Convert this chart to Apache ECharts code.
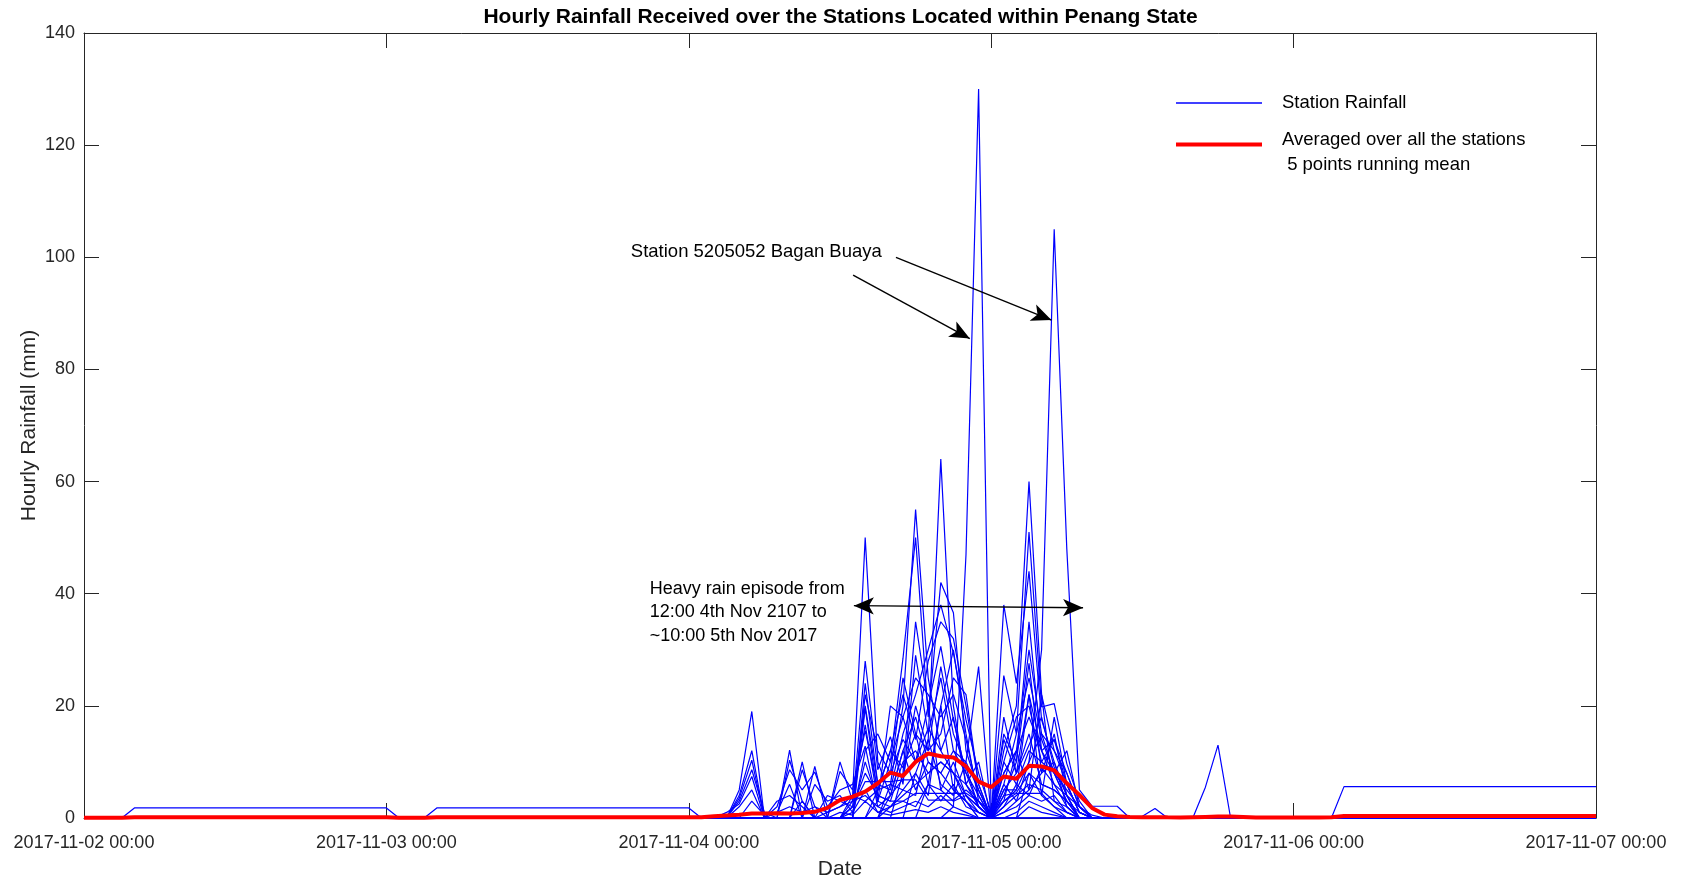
<!DOCTYPE html>
<html>
<head>
<meta charset="utf-8">
<script src="https://cdn.jsdelivr.net/npm/echarts@6/dist/echarts.min.js"></script>
<style>
html,body{margin:0;padding:0;background:#fff;}
#chart{width:1681px;height:877px;}
</style>
</head>
<body>
<div id="chart"></div>
<script>
// x values are hours since 2017-11-02 00:00
const xTickLabels = ['2017-11-02 00:00','2017-11-03 00:00','2017-11-04 00:00','2017-11-05 00:00','2017-11-06 00:00','2017-11-07 00:00'];
const yTicks = [0,20,40,60,80,100,120,140];

// Station hourly rainfall (mm) as [hour, value]
const s01 = [[0,0],[68,0],[69,2],[70,47],[71,130],[72,0],[73,3],[74,5],[75,10],[76,30],[77,105],[78,48],[79,5],[80,2.1],[81,2.1],[82,2.1],[83,0],[120,0]];
const s02 = [[0,0],[65,0],[66,8],[67,14],[68,64],[69,20],[70,6],[71,2],[72,0],[73,5],[74,8],[75,22],[76,12],[77,6],[78,2],[79,0],[120,0]];
const s03 = [[0,0],[63,0],[64,6],[65,20],[66,55],[67,25],[68,12],[69,8],[70,4],[71,1],[72,0],[73,8],[74,12],[75,30],[76,15],[77,8],[78,3],[79,0],[120,0]];
const s04 = [[0,0],[60,0],[61,4],[62,50],[63,10],[64,4],[65,12],[66,18],[67,10],[68,8],[69,5],[70,3],[71,0],[74,0],[75,8],[76,4],[77,2],[78,0],[120,0]];
const s05 = [[0,0],[62,0],[63,3],[64,10],[65,28.5],[66,50],[67,18],[68,42],[69,36.6],[70,12],[71,5],[72,0],[73,12],[74,20],[75,60],[76,22],[77,12],[78,6],[79,1],[80,0],[120,0]];
const s06 = [[0,0],[66,0],[67,6],[68,20],[69,30],[70,15],[71,3],[72,0],[73,25.4],[74,15],[75,51],[76,19.8],[77,20.4],[78,9.7],[79,3],[80,0],[120,0]];
const s07 = [[0,0],[64,0],[65,8],[66,35],[67,20],[68,30.6],[69,17.5],[70,8],[71,2],[72,0],[73,38],[74,24],[75,44],[76,17.5],[77,10],[78,4],[79,0],[120,0]];
const s08 = [[0,0],[51,0],[52,5],[53,19],[54,0],[60,0],[61,2],[62,28],[63,8.6],[64,14.5],[65,6],[66,29],[67,15],[68,25],[69,12],[70,10],[71,27],[72,0],[73,15],[74,10],[75,27.6],[76,8],[77,15],[78,4],[79,0],[120,0]];
const s09 = [[0,0],[51,0],[52,4],[53,12],[54,0],[55,0],[56,12.1],[57,0],[61,0],[62,24],[63,6],[64,5],[65,15],[66,22],[67,30],[68,38],[69,29.4],[70,17.5],[71,8],[72,1],[73,8],[74,12],[75,18],[76,12],[77,8],[78,12],[79,2],[80,0],[120,0]];
const s10 = [[0,0],[51,0],[52,3.5],[53,10.3],[54,0],[56,0],[57,10],[58,0],[61,0],[62,22],[63,12],[64,8],[65,25],[66,15],[67,12],[68,15],[69,25],[70,22],[71,6],[72,0],[73,18],[74,8],[75,15],[76,6],[77,5],[78,3],[79,0],[120,0]];
const s11 = [[0,0],[51,0],[52,3],[53,8.6],[54,1],[55,0],[57,0],[58,9.2],[59,0],[61,0],[62,19.6],[63,4],[64,3],[65,10],[66,12],[67,8],[68,10],[69,8],[70,6],[71,3],[72,0],[73,5],[74,5],[75,22],[76,4],[77,18],[78,6],[79,1],[80,0],[120,0]];
const s12 = [[0,0],[50,0],[51,1],[52,2.5],[53,7.4],[54,0],[55,0],[56,10.3],[57,3],[58,0],[59,0],[60,10],[61,3],[62,16.6],[63,3],[64,20],[65,18],[66,10],[67,20],[68,5],[69,3],[70,4],[71,2],[72,0],[73,1],[74,3],[75,10],[76,15],[77,12],[78,8],[79,2],[80,0],[120,0]];
const s13 = [[0,0],[51,0],[52,2],[53,5],[54,0],[56,0],[57,8.6],[58,2],[59,0],[60,8.3],[61,5],[62,15.6],[63,5],[64,6],[65,5],[66,8],[67,4],[68,20],[69,5],[70,3],[71,1],[72,0],[73,3],[74,12],[75,5],[76,22],[77,3],[78,2],[79,0],[120,0]];
const s14 = [[0,0],[60,0],[61,2],[62,6.5],[63,6.5],[64,6.5],[65,6.8],[66,6.8],[67,3.2],[68,3.2],[69,3.2],[70,5],[71,3],[72,0],[73,4],[74,4.5],[75,8],[76,6],[77,5],[78,3],[79,1],[80,0],[120,0]];
const s15 = [[0,0],[54,0],[55,2],[56,8.6],[57,5],[58,8.2],[59,2],[60,5],[61,6],[62,12.8],[63,2],[64,4],[65,12],[66,5],[67,10],[68,8],[69,12],[70,8],[71,4],[72,0],[73,2],[74,6],[75,12],[76,10],[77,8],[78,5],[79,2],[80,0],[120,0]];
const s16 = [[0,0],[54,0],[55,1],[56,6],[57,0],[58,6],[59,3],[60,4],[61,1],[62,10],[63,3],[64,2],[65,5],[66,4],[67,14],[68,6],[69,4],[70,10],[71,5],[72,0.5],[73,6],[74,3],[75,5],[76,8],[77,10],[78,2],[79,0],[120,0]];
const s17 = [[0,0],[54,0],[55,3],[56,4],[57,2],[58,0],[59,4],[60,3],[61,2],[62,8],[63,4],[64,3],[65,3],[66,2],[67,6],[68,3],[69,6],[70,2],[71,1],[72,0],[73,1],[74,2],[75,4],[76,3],[77,4],[78,1],[79,0],[120,0]];
const s18 = [[0,0],[56,0],[57,3],[58,0],[59,1],[60,2],[61,3],[62,4],[63,2],[64,1],[65,2],[66,3],[67,2],[68,4],[69,2],[70,1],[71,0],[73,0],[74,1],[75,3],[76,2],[77,1],[78,0],[120,0]];
const s19 = [[0,0],[59,0],[60,1],[61,0.5],[62,3],[63,1],[64,0.5],[65,1],[66,1.5],[67,1],[68,2],[69,1],[70,0.5],[71,0],[74,0],[75,2],[76,1],[77,0.5],[78,0],[120,0]];
const s20 = [[0,0],[3,0],[4,1.8],[24,1.8],[25,0],[27,0],[28,1.8],[48,1.8],[49,0],[120,0]];
const s21 = [[0,0],[99,0],[100,5.6],[120,5.6]];
const s22 = [[0,0],[88,0],[89,5.5],[90,13],[91,0],[120,0]];
const s23 = [[0,0],[83,0],[84,0.3],[85,1.7],[86,0],[120,0]];
const s24 = [[0,0],[60,0],[61,1],[62,5],[63,1],[64,2],[65,4],[66,6],[67,8],[68,10],[69,8],[70,3],[71,0],[72,0],[73,2],[74,4],[75,6],[76,5],[77,3],[78,1],[79,0],[120,0]];
const s25 = [[0,0],[52,0],[53,3],[54,0.5],[55,1],[56,2],[57,1],[58,2],[59,1],[60,2],[61,4],[62,3],[63,5],[64,12],[65,9],[66,15],[67,6],[68,5],[69,10],[70,4],[71,2],[72,0],[73,10],[74,6],[75,4],[76,9],[77,6],[78,4],[79,2],[80,0.5],[81,0],[120,0]];
const s26 = [[0,0],[63,0],[64,2],[65,3],[66,4.4],[67,4.4],[68,4.4],[69,4.4],[70,4.4],[71,3],[72,1],[73,3],[74,4.4],[75,4.4],[76,4.4],[77,2],[78,1],[79,0],[120,0]];
const s27 = [[0,0],[62,0],[63,5],[64,12],[65,22],[66,14],[67,28],[68,35],[69,32],[70,20],[71,6],[72,0],[73,6],[74,15],[75,25],[76,14],[77,8],[78,3],[79,0],[120,0]];
const s28 = [[0,0],[61,0],[62,12],[63,15],[64,10],[65,18],[66,25],[67,22],[68,18],[69,22],[70,14],[71,4],[72,0],[73,10],[74,18],[75,20],[76,10],[77,14],[78,6],[79,1],[80,0],[120,0]];
const s29 = [[0,0],[60,0],[61,3],[62,20],[63,6],[64,8],[65,14],[66,10],[67,16],[68,12],[69,18],[70,6],[71,10],[72,0],[73,14],[74,8],[75,13],[76,18],[77,9],[78,4],[79,0],[120,0]];
const s30 = [[0,0],[63,0],[64,4],[65,7],[66,20],[67,12],[68,27],[69,15],[70,9],[71,2],[72,0],[73,4],[74,10],[75,35],[76,12],[77,14],[78,8],[79,2],[80,0],[120,0]];
const stations = [s01,s02,s03,s04,s05,s06,s07,s08,s09,s10,s11,s12,s13,s14,s15,s16,s17,s18,s19,s20,s21,s22,s23,s24,s25,s26,s27,s28,s29,s30];

// Station-average, 5 points running mean, hourly from hour 0 to 120
const meanRain = [
0.05,0.05,0.05,0.05,
0.12,0.12,0.12,0.12,0.12,0.12,0.12,0.12,0.12,0.12,0.12,0.12,0.12,0.12,0.12,0.12,0.12,0.12,0.12,0.12,0.12,
0.05,0.05,0.05,
0.12,0.12,0.12,0.12,0.12,0.12,0.12,0.12,0.12,0.12,0.12,0.12,0.12,0.12,0.12,0.12,0.12,0.12,0.12,0.12,0.12,
0.15,0.3,0.45,0.6,0.8,0.8,0.85,0.8,0.9,1.1,1.8,3.2,3.8,4.7,6.2,8.1,7.5,10.0,11.5,11.0,10.8,9.2,6.5,5.5,7.4,7.0,9.3,9.2,8.5,6.2,4.1,1.8,0.6,0.3,0.2,0.15,0.15,0.12,0.1,0.15,0.2,0.25,0.25,0.2,0.1,
0.08,0.08,0.08,0.08,0.08,
0.15,
0.35,0.35,0.35,0.35,0.35,0.35,0.35,0.35,0.35,0.35,0.35,0.35,0.35,0.35,0.35,0.35,0.35,0.35,0.35,0.35,0.35
];

// Annotations in data units [hour, mm]
const stationArrows = [[[61.04,96.8],[70.3,85.5]], [[64.44,100.0],[76.78,88.8]]];
const episodeArrow = [[61.1,37.87],[79.29,37.5]];
const stationNote = {text:'Station 5205052 Bagan Buaya', at:[43.4,100.9]};
const episodeNote = {text:'Heavy rain episode from\n12:00 4th Nov 2107 to\n~10:00 5th Nov 2017', at:[44.9,43.0]};

const FONT = 'Liberation Sans, Arial, Helvetica, sans-serif';
const AX = '#262626';
const BLUE_NAME = 'Station Rainfall';
const RED_NAME = 'Averaged over all the stations\n 5 points running mean';

const chart = echarts.init(document.getElementById('chart'), null, {renderer:'canvas'});

const series = stations.map(d => ({
  name: BLUE_NAME, type:'line', data:d, symbol:'none', showSymbol:false,
  lineStyle:{color:'#0000ff', width:1.2}, itemStyle:{color:'#0000ff'},
  silent:true, animation:false, z:2
}));
series.push({
  name: RED_NAME, type:'line', data: meanRain.map((v,i)=>[i,v]), symbol:'none', showSymbol:false,
  lineStyle:{color:'#ff0000', width:4}, itemStyle:{color:'#ff0000'},
  silent:true, animation:false, z:3,
  markLine:{
    silent:true, animation:false, symbol:['none','arrow'], symbolSize:[13,20],
    lineStyle:{color:'#000', width:1.4, type:'solid'}, label:{show:false}, emphasis:{disabled:true},
    data:[
      [{coord:stationArrows[0][0]},{coord:stationArrows[0][1]}],
      [{coord:stationArrows[1][0]},{coord:stationArrows[1][1]}],
      [{coord:episodeArrow[0], symbol:'arrow'},{coord:episodeArrow[1], symbol:'arrow'}]
    ]
  }
});

const axisCommon = {
  axisLine:{show:true, onZero:false, lineStyle:{color:AX, width:1}},
  axisTick:{show:true, inside:true, length:15, lineStyle:{color:AX, width:1}},
  splitLine:{show:false}
};

chart.setOption({
  animation:false,
  backgroundColor:'#fff',
  textStyle:{fontFamily:FONT},
  title:{
    text:'Hourly Rainfall Received over the Stations Located within Penang State',
    left:'center', top:7, padding:0,
    textStyle:{fontFamily:FONT, fontSize:21, fontWeight:'bold', color:'#000'}
  },
  legend:[
    {data:[{name:BLUE_NAME, icon:'rect'}], orient:'vertical', left:1176, top:92.5, padding:0, itemWidth:86, itemHeight:1.5,
     selectedMode:false,
     textStyle:{fontFamily:FONT, fontSize:18.5, color:'#000', lineHeight:21, padding:[0,0,0,15]}},
    {data:[{name:RED_NAME, icon:'rect'}], orient:'vertical', left:1176, top:130, padding:0, itemWidth:86, itemHeight:4,
     selectedMode:false,
     formatter:() => '{a|Averaged over all the stations}\n{b| 5 points running mean}',
     textStyle:{fontFamily:FONT, fontSize:18.5, color:'#000', padding:[0,0,0,15],
       rich:{a:{fontFamily:FONT, fontSize:18.5, color:'#000', lineHeight:40},
             b:{fontFamily:FONT, fontSize:18.5, color:'#000', lineHeight:10}}}}
  ],
  grid:{left:84, right:85, top:33, bottom:59, containLabel:false, outerBoundsMode:'none'},
  xAxis:[
    Object.assign({type:'value', position:'bottom', min:0, max:120, interval:24,
      name:'Date', nameLocation:'middle', nameGap:41,
      nameTextStyle:{fontFamily:FONT, fontSize:21, color:AX},
      axisLabel:{show:true, margin:16, fontFamily:FONT, fontSize:18, color:AX,
        formatter:v => xTickLabels[Math.round(v/24)]}}, axisCommon),
    Object.assign({type:'value', position:'top', min:0, max:120, interval:24,
      axisLabel:{show:false}}, axisCommon)
  ],
  yAxis:[
    Object.assign({type:'value', position:'left', min:0, max:140, interval:20,
      name:'Hourly Rainfall (mm)', nameLocation:'middle', nameGap:44.5, nameMoveOverlap:false,
      nameTextStyle:{fontFamily:FONT, fontSize:21, color:AX},
      axisLabel:{show:true, margin:9, fontFamily:FONT, fontSize:18, color:AX,
        formatter:v => (yTicks.indexOf(v) >= 0 ? String(v) : '')}}, axisCommon),
    Object.assign({type:'value', position:'right', min:0, max:140, interval:20,
      axisLabel:{show:false}}, axisCommon)
  ],
  series:series
});

function px(p){ return chart.convertToPixel({gridIndex:0}, p); }
const sp = px(stationNote.at);
const ep = px(episodeNote.at);
chart.setOption({
  graphic:[
    {type:'text', x:sp[0], y:sp[1], silent:true,
     style:{text:stationNote.text, font:'18.5px ' + FONT, fill:'#000', align:'left', verticalAlign:'middle'}},
    {type:'text', x:ep[0], y:ep[1], silent:true,
     style:{text:episodeNote.text, font:'18px ' + FONT, fill:'#000', align:'left', verticalAlign:'top', lineHeight:23.5}}
  ]
});
</script>
</body>
</html>
